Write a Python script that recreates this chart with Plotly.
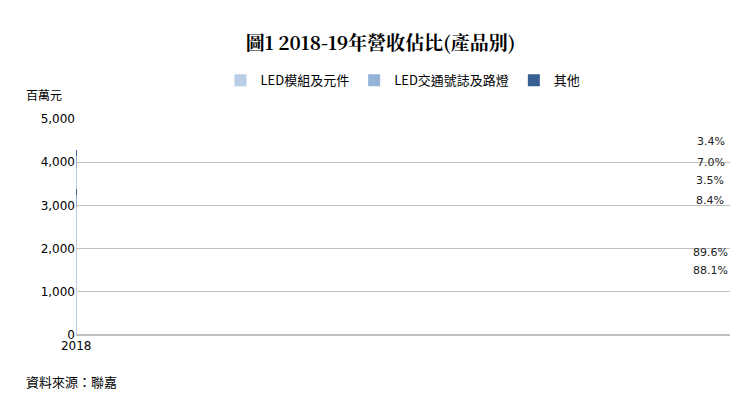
import plotly.graph_objects as go

years = ["2018", "2019"]
series_names = ["LED模組及元件", "LED交通號誌及路燈", "其他"]
totals = [3370, 4280]
shares = {
    "LED模組及元件": [88.1, 89.6],
    "LED交通號誌及路燈": [8.4, 7.0],
    "其他": [3.5, 3.4],
}
colors = ["#b9cde5", "#95b3d7", "#376092"]
font_cjk = "Noto Sans CJK TC"

fig = go.Figure()
base = [0, 0]
for name, col in zip(series_names, colors):
    vals = [t * s / 100 for t, s in zip(totals, shares[name])]
    fig.add_trace(go.Bar(x=years, y=vals, name=name, marker_color=col, width=0.4,
                         marker_line_width=0))
    for i, y in enumerate(years):
        if name == "其他":
            ypos, ya = base[i] + vals[i], "bottom"
        else:
            ypos, ya = base[i] + vals[i] / 2, "middle"
        fig.add_annotation(x=y, y=ypos, text=f"{shares[name][i]:.1f}%", showarrow=False,
                           yanchor=ya, font=dict(size=11, color="#222"))
        base[i] += vals[i]

fig.add_annotation(xref="paper", yref="paper", x=-0.08, y=1.16, text="百萬元",
                   showarrow=False, xanchor="left", font=dict(size=12, family=font_cjk))
fig.add_annotation(xref="paper", yref="paper", x=-0.08, y=-0.27, text="資料來源：聯嘉",
                   showarrow=False, xanchor="left", font=dict(size=13, family=font_cjk))

fig.update_layout(
    width=745, height=412, barmode="stack", plot_bgcolor="white", paper_bgcolor="white",
    margin=dict(l=68, r=23, t=111, b=85, autoexpand=False),
    title=dict(text="<b>圖1 2018-19年營收佔比(產品別)</b>", x=0.5, y=0.93,
               font=dict(size=19, family="Noto Serif CJK TC, serif", color="black")),
    legend=dict(orientation="h", x=0.5, xanchor="center", y=1.11, yanchor="bottom",
                font=dict(size=13, family=font_cjk), traceorder="normal",
                itemwidth=30, bgcolor="rgba(0,0,0,0)"),
    font=dict(family="DejaVu Sans", size=12, color="black"),
)
fig.update_yaxes(range=[0, 5000], dtick=1000, tickformat=",", gridcolor="#bfbfbf",
                 showline=False, zeroline=True, zerolinecolor="#bfbfbf")
fig.update_xaxes(type="category", showline=True, linecolor="#bfbfbf", ticks="")
fig.write_html("out.html")
